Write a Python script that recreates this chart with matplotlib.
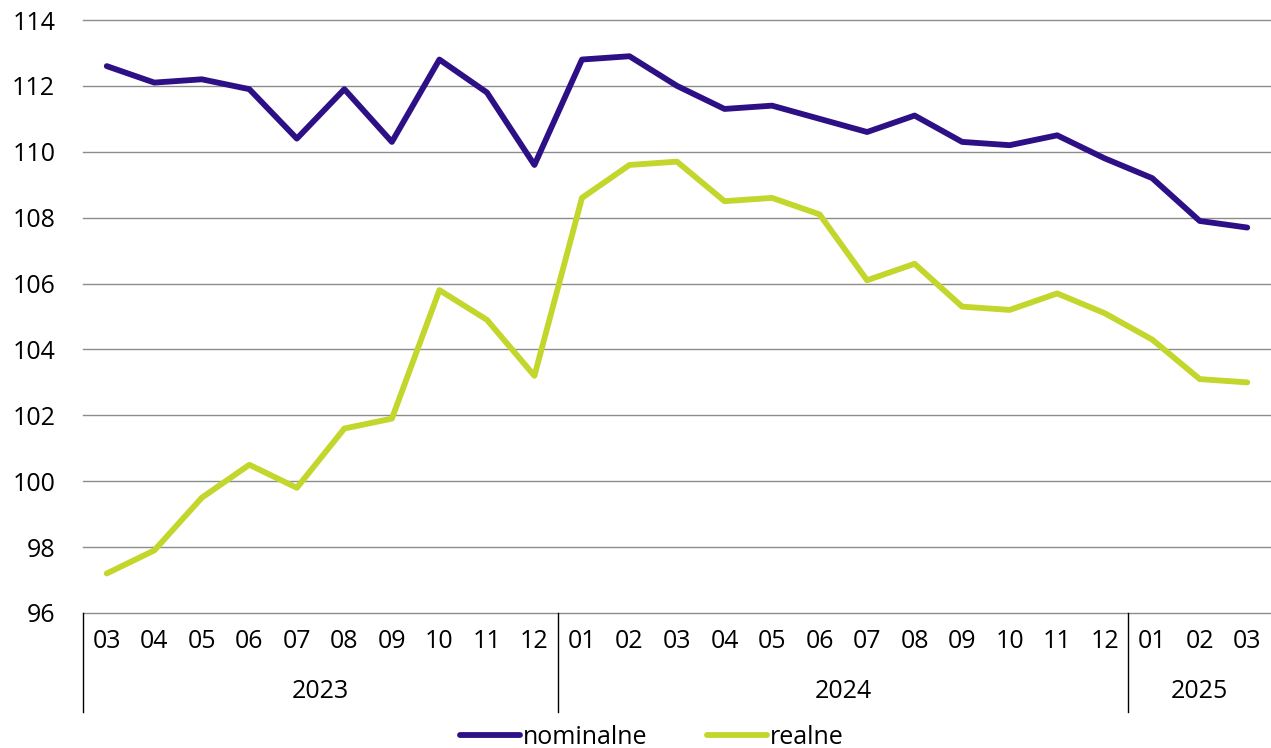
import numpy as np
import matplotlib.pyplot as plt
import matplotlib.transforms as mtrans
from matplotlib.lines import Line2D

plt.rcParams['font.family'] = ['Open Sans', 'DejaVu Sans']

# data
MONTHS = ['03', '04', '05', '06', '07', '08', '09', '10', '11', '12',
          '01', '02', '03', '04', '05', '06', '07', '08', '09', '10', '11', '12',
          '01', '02', '03']
YEARS = ['2023', '2024', '2025']
YEAR_SPANS = [(0, 9), (10, 21), (22, 24)]
NOMINAL = [112.6, 112.1, 112.2, 111.9, 110.4, 111.9, 110.3, 112.8, 111.8, 109.6,
           112.8, 112.9, 112.0, 111.3, 111.4, 111.0, 110.6, 111.1, 110.3, 110.2,
           110.5, 109.8, 109.2, 107.9, 107.7]
REAL = [97.2, 97.9, 99.5, 100.5, 99.8, 101.6, 101.9, 105.8, 104.9, 103.2,
        108.6, 109.6, 109.7, 108.5, 108.6, 108.1, 106.1, 106.6, 105.3, 105.2,
        105.7, 105.1, 104.3, 103.1, 103.0]

C_NOM = '#2d0f86'
C_REAL = '#c2d62c'

W, H = 1271, 748
fig = plt.figure(figsize=(W / 100, H / 100), dpi=100)
ax = fig.add_axes([83 / W, 1 - 613 / H, (1271 - 83) / W, (613 - 20) / H])

x = np.arange(len(MONTHS))
ax.set_xlim(-0.5, len(MONTHS) - 0.5)
ax.set_ylim(96, 114)

for v in range(96, 115, 2):
    ax.axhline(v, color='#8c8c8c', lw=1.0, zorder=1, clip_on=False)

ax.plot(x, NOMINAL, color=C_NOM, lw=4.2, solid_joinstyle='round',
        solid_capstyle='round', zorder=3)
ax.plot(x, REAL, color=C_REAL, lw=4.2, solid_joinstyle='round',
        solid_capstyle='round', zorder=3)

for s in ax.spines.values():
    s.set_visible(False)
ax.set_xticks([])
ax.set_yticks(range(96, 115, 2))
ax.tick_params(axis='y', length=0, labelsize=18, pad=20)

# two-level category axis
trans = mtrans.blended_transform_factory(ax.transData, ax.transAxes)
px = 1 / (613 - 20)
for i, m in enumerate(MONTHS):
    ax.text(i, -(642 - 613) * px, m, transform=trans, ha='center', va='center',
            fontsize=18)
for (a, b), yr in zip(YEAR_SPANS, YEARS):
    ax.text((a + b) / 2, -(691 - 613) * px, yr, transform=trans, ha='center',
            va='center', fontsize=18)
for sep in [-0.5, 9.5, 21.5]:
    ax.add_line(Line2D([sep, sep], [0, -(712 - 613) * px], transform=trans,
                       color='black', lw=1.0, clip_on=False))

# legend
fig.legend(handles=[Line2D([], [], color=C_NOM, lw=4.2, solid_capstyle='round'),
                    Line2D([], [], color=C_REAL, lw=4.2, solid_capstyle='round')],
           labels=['nominalne', 'realne'], loc='center',
           bbox_to_anchor=(652 / W, 1 - 737 / H), ncol=2, frameon=False,
           fontsize=18, handlelength=2.4, handletextpad=0.1, columnspacing=2.4,
           borderpad=0)

fig.savefig('out.png', dpi=100)
